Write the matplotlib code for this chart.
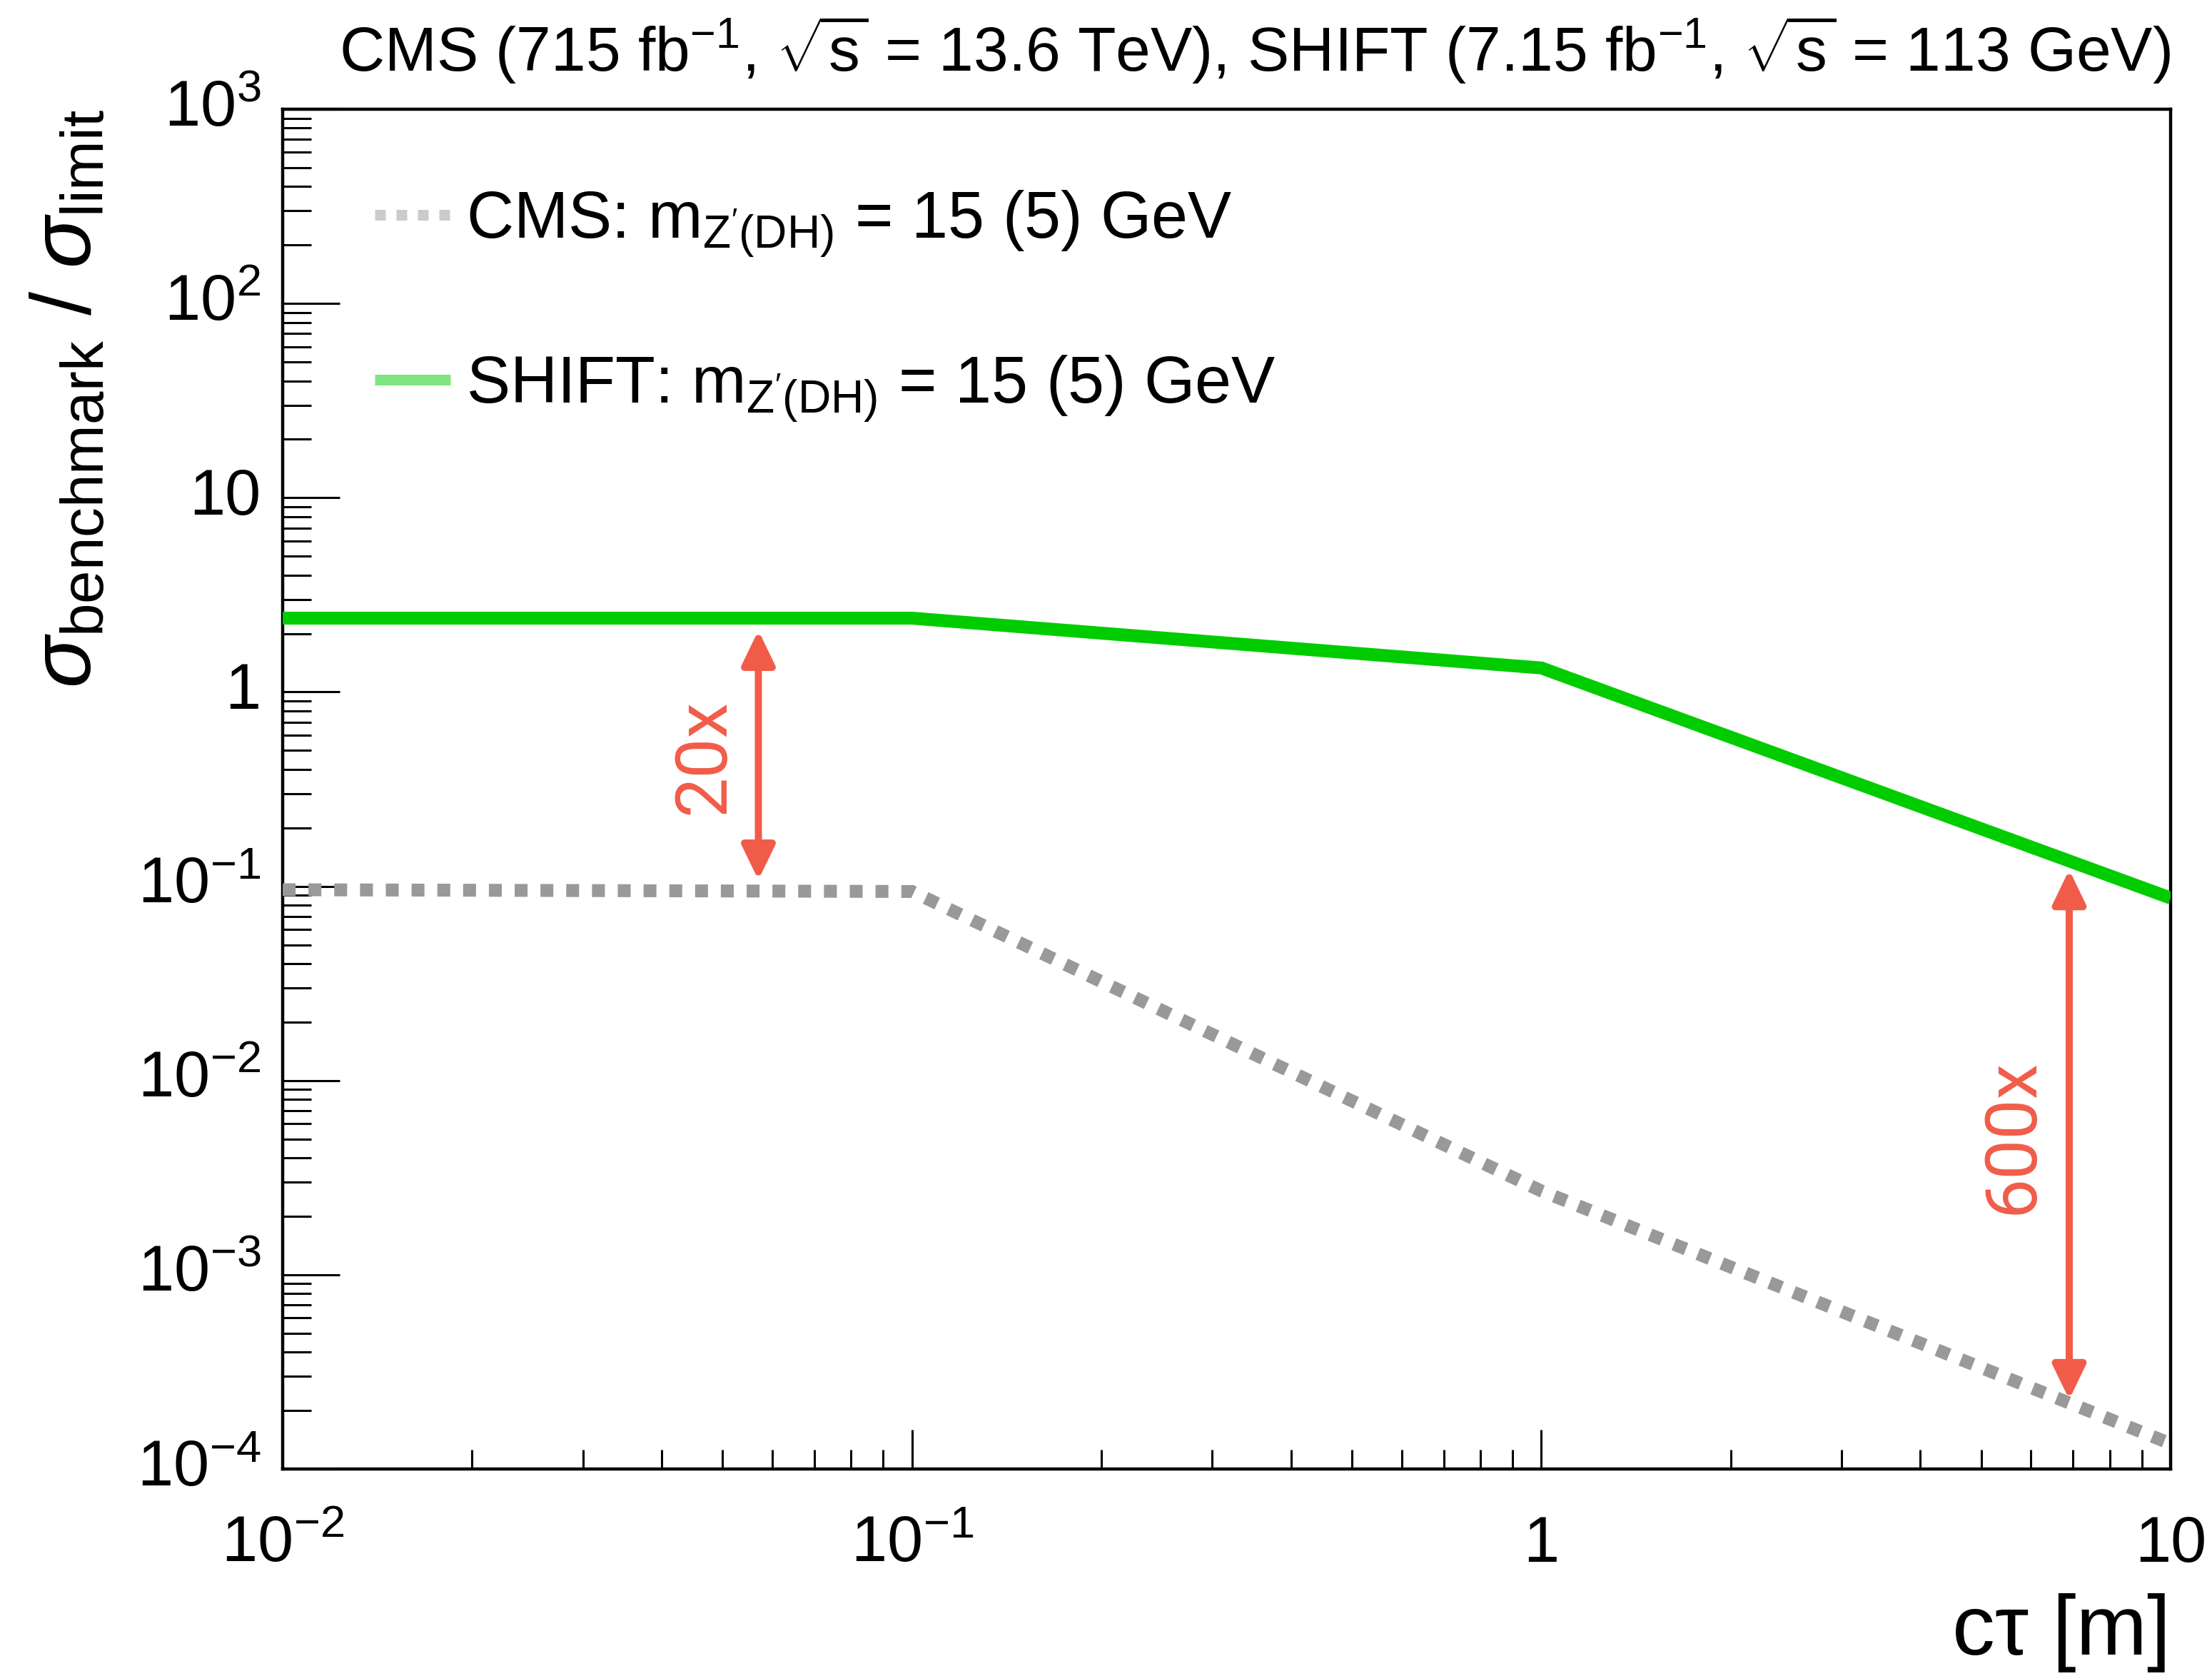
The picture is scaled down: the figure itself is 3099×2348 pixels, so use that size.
import numpy as np
import matplotlib
matplotlib.use("Agg")
import matplotlib.pyplot as plt
from matplotlib.ticker import LogLocator, NullFormatter, FixedLocator

plt.rcParams['font.family'] = ['Liberation Sans', 'DejaVu Sans']
plt.rcParams['mathtext.fontset'] = 'custom'
plt.rcParams['mathtext.rm'] = 'Liberation Sans'
plt.rcParams['mathtext.it'] = 'Liberation Sans:italic'
plt.rcParams['mathtext.bf'] = 'Liberation Sans:bold'

# data
ctau = [0.01, 0.1, 1.0, 10.0]
shift_ratio = [2.40, 2.40, 1.33, 0.087]
cms_ratio = [0.096, 0.094, 0.0027, 1.35e-4]

# gain arrows: x, lower tip, upper tip, label, label position
arrow_x = [0.057, 6.9]
arrow_lo = [0.104, 2.2e-4]
arrow_hi = [2.15, 0.126]
arrow_txt = ['20x', '600x']
arrow_txt_x = [0.0468, 5.61]
arrow_txt_y = [0.464, 0.00515]

xticks = [0.01, 0.1, 1, 10]
xtick_labels = [r'$10^{-2}$', r'$10^{-1}$', '1', '10']
yticks = [1e-4, 1e-3, 1e-2, 1e-1, 1, 10, 1e2, 1e3]
ytick_labels = [r'$10^{-4}$', r'$10^{-3}$', r'$10^{-2}$', r'$10^{-1}$', '1', '10',
                r'$10^{2}$', r'$10^{3}$']

green = '#00cc00'
grey = '#999999'
red = '#f15c49'

fig = plt.figure(figsize=(30.99, 23.48), dpi=100)
ax = fig.add_axes([0.1278, 0.1235, 0.8535, 0.8113])

ln_cms, = ax.plot(ctau, cms_ratio, color=grey, lw=13, ls=(0, (1, 1)),
                  dash_capstyle='butt', dash_joinstyle='miter', zorder=3,
                  label=r"CMS: m$_{\mathrm{Z'(DH)}}$ = 15 (5) GeV")
ln_shift, = ax.plot(ctau, shift_ratio, color=green, lw=13, solid_capstyle='butt',
                    solid_joinstyle='miter', zorder=3,
                    label=r"SHIFT: m$_{\mathrm{Z'(DH)}}$ = 15 (5) GeV")

for i in range(len(arrow_x)):
    ax.annotate('', xy=(arrow_x[i], arrow_hi[i]), xytext=(arrow_x[i], arrow_lo[i]),
                arrowprops=dict(arrowstyle='<|-|>,head_length=2.9,head_width=1.4',
                                mutation_scale=10, lw=7.2, color=red,
                                shrinkA=3, shrinkB=3), zorder=4)
    ax.text(arrow_txt_x[i], arrow_txt_y[i], arrow_txt[i], rotation=90,
            ha='center', va='center', color=red, fontsize=72,
            family=['Roboto', 'Liberation Sans'], fontweight='normal')

ax.set_xscale('log')
ax.set_yscale('log')
ax.set_xlim(0.01, 10)
ax.set_ylim(1e-4, 1e3)

ax.xaxis.set_major_locator(FixedLocator(xticks))
ax.yaxis.set_major_locator(FixedLocator(yticks))
ax.xaxis.set_minor_locator(LogLocator(base=10, subs=np.arange(2, 10), numticks=100))
ax.yaxis.set_minor_locator(LogLocator(base=10, subs=np.arange(2, 10), numticks=100))
ax.xaxis.set_minor_formatter(NullFormatter())
ax.yaxis.set_minor_formatter(NullFormatter())
ax.set_xticklabels(xtick_labels, va='baseline')
ax.set_yticklabels(ytick_labels, va='center')

ax.tick_params(axis='both', which='both', direction='in', top=False, right=False,
               width=2.2, labelsize=65)
ax.tick_params(axis='y', which='major', length=57.6, pad=22)
ax.tick_params(axis='y', which='minor', length=28.8)
ax.tick_params(axis='x', which='major', length=39.6, pad=93.6)
ax.tick_params(axis='x', which='minor', length=19.4)
for s in ax.spines.values():
    s.set_linewidth(3.2)

ax.set_xlabel('cτ [m]', fontsize=86, loc='right')
ax.xaxis.set_label_coords(1.0, -0.0913)
ax.set_ylabel(r'$\sigma_{\mathrm{benchmark}}$ / $\sigma_{\mathrm{limit}}$',
              fontsize=86, loc='top')
ax.yaxis.set_label_coords(-0.092, 1.0)

ax.set_title(r'CMS (715 fb$^{-1}$, $\sqrt{\mathrm{s}}$ = 13.6 TeV), SHIFT (7.15 fb$^{-1}$, $\sqrt{\mathrm{s}}$ = 113 GeV)',
             loc='right', fontsize=63, pad=38)

leg = ax.legend(handles=[ln_cms, ln_shift], loc='upper left',
                bbox_to_anchor=(0.0488, 0.9415), frameon=False, fontsize=66,
                handlelength=1.156, handletextpad=0.24, labelspacing=1.45,
                borderpad=0, borderaxespad=0)
for h in leg.get_lines():
    h.set_alpha(0.5)
    h.set_linewidth(10.8)

fig.savefig('out.png', dpi=100)
